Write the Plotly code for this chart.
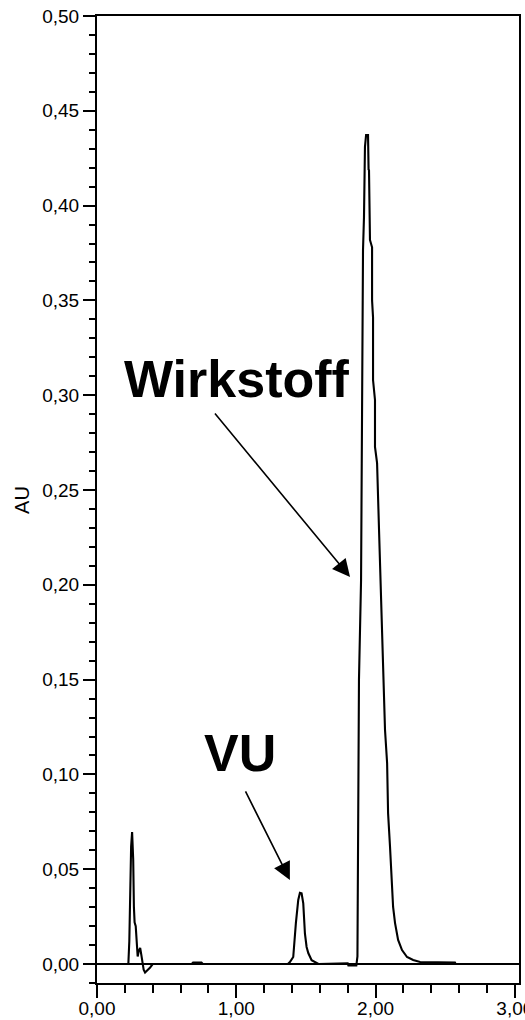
import plotly.graph_objects as go

# Retention time (min) and absorbance (AU)
time_min = [
    0.00, 0.225, 0.232, 0.238, 0.245, 0.252, 0.256, 0.260, 0.265, 0.270, 0.278,
    0.285, 0.292, 0.300, 0.310, 0.318, 0.325, 0.335, 0.345, 0.360, 0.380, 0.400,
    0.680, 0.690, 0.750, 0.760,
    1.370, 1.385, 1.409, 1.428, 1.445, 1.457, 1.469, 1.481, 1.493, 1.505, 1.517,
    1.541, 1.577, 1.590,
    1.800, 1.805, 1.862, 1.866, 1.870, 1.881, 1.896, 1.903, 1.910, 1.917, 1.924,
    1.932, 1.939, 1.946, 1.950, 1.953, 1.960, 1.975, 1.975, 1.982, 1.982, 1.996,
    1.996, 2.011, 2.025, 2.040, 2.047, 2.054, 2.068, 2.083, 2.090, 2.104, 2.119,
    2.126, 2.140, 2.162, 2.190, 2.226, 2.270, 2.320, 2.570, 2.575, 3.03,
]
absorbance = [
    0.0, 0.0, 0.012, 0.050, 0.062, 0.0696, 0.062, 0.055, 0.030, 0.022, 0.020,
    0.008, 0.004, 0.007, 0.0085, 0.005, 0.001, -0.003, -0.0045, -0.0035, -0.002, 0.0,
    0.0, 0.0008, 0.0008, 0.0,
    0.0, 0.001, 0.0037, 0.0216, 0.0338, 0.0376, 0.0373, 0.032, 0.016, 0.009, 0.0058,
    0.002, 0.0005, 0.0,
    0.0004, -0.0008, -0.0008, 0.003, 0.004, 0.150, 0.2025, 0.290, 0.3766, 0.394, 0.431,
    0.4372, 0.437, 0.4372, 0.419, 0.4188, 0.3819, 0.378, 0.350, 0.341, 0.308, 0.2975,
    0.2727, 0.2642, 0.2289, 0.1936, 0.1672, 0.150, 0.1234, 0.106, 0.0796, 0.0617, 0.0443,
    0.0301, 0.0216, 0.0127, 0.0074, 0.0037, 0.0021, 0.0011, 0.0008, 0.0, 0.0,
]

x_ticks = [0, 1, 2, 3]
y_ticks = [0.00, 0.05, 0.10, 0.15, 0.20, 0.25, 0.30, 0.35, 0.40, 0.45, 0.50]

peak_labels = ["Wirkstoff", "VU"]
label_x = [1.007, 1.025]
label_y = [0.3085, 0.1115]
arrow_tail_x = [0.838, 1.061]
arrow_tail_y = [0.2911, 0.0918]
arrow_head_x = [1.817, 1.385]
arrow_head_y = [0.2041, 0.0443]

fig = go.Figure()
fig.add_trace(go.Scatter(
    x=time_min, y=absorbance, mode="lines",
    line=dict(color="black", width=2.1),
    showlegend=False, hoverinfo="skip",
))

for txt, lx, ly in zip(peak_labels, label_x, label_y):
    fig.add_annotation(
        x=lx, y=ly, xref="x", yref="y", text=txt, showarrow=False,
        xanchor="center", yanchor="middle",
        font=dict(family="Liberation Sans, Arial", size=52, color="black", weight="bold"),
    )

for tx, ty, hx, hy in zip(arrow_tail_x, arrow_tail_y, arrow_head_x, arrow_head_y):
    fig.add_annotation(
        x=hx, y=hy, ax=tx, ay=ty, xref="x", yref="y", axref="x", ayref="y",
        text="", showarrow=True, arrowhead=2, arrowsize=2.2, arrowwidth=1.6,
        arrowcolor="black", standoff=0,
    )

fig.add_annotation(
    x=-0.179, y=0.5, xref="paper", yref="paper", text="AU", showarrow=False,
    textangle=-90, xanchor="center", yanchor="middle",
    font=dict(family="Liberation Sans, Arial", size=20, color="black"),
)

axis_font = dict(family="Liberation Sans, Arial", size=19, color="black")

fig.update_xaxes(
    range=[0, 3.03], tickvals=x_ticks, tickformat=".2f",
    showline=True, linecolor="black", linewidth=2, mirror=True,
    ticks="outside", ticklen=13, tickwidth=2, tickcolor="black",
    minor=dict(dtick=0.2, tick0=0, ticks="outside", ticklen=8, tickwidth=2, tickcolor="black"),
    showgrid=False, zeroline=False, tickfont=axis_font,
    ticklabelstandoff=-6, ticklabeloverflow="allow",
)
fig.update_yaxes(
    range=[-0.01, 0.50], tickvals=y_ticks, tickformat=".2f",
    showline=True, linecolor="black", linewidth=2, mirror=True,
    ticks="outside", ticklen=12, tickwidth=2, tickcolor="black",
    minor=dict(dtick=0.01, tick0=0, ticks="outside", ticklen=6, tickwidth=2, tickcolor="black"),
    showgrid=False, zeroline=True, zerolinecolor="black", zerolinewidth=1.5,
    tickfont=axis_font,
)

fig.update_layout(
    width=525, height=1020,
    margin=dict(l=97, r=6, t=16, b=37, autoexpand=False),
    plot_bgcolor="white", paper_bgcolor="white",
    separators=",.",
    showlegend=False,
)

fig.write_html("out.html", config={"displayModeBar": False})
